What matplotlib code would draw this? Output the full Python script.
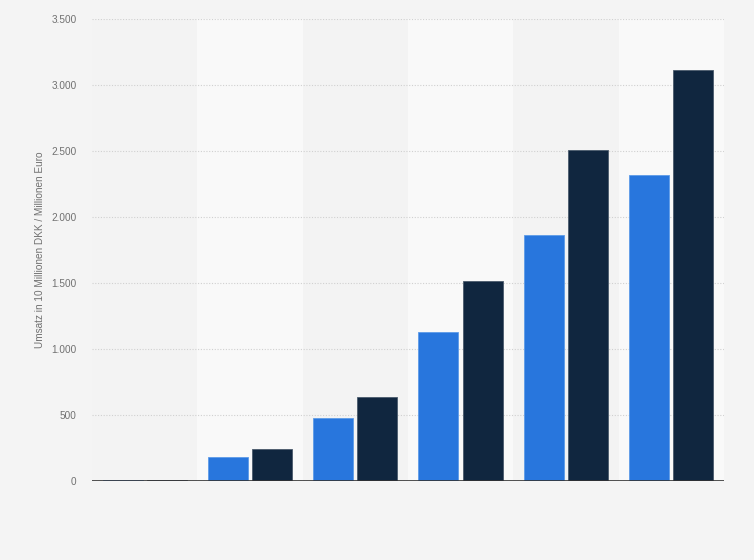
import numpy as np
import matplotlib.pyplot as plt
from matplotlib.ticker import FuncFormatter

plt.rcParams['font.family'] = ['Liberation Sans', 'DejaVu Sans']

groups = ['1', '2', '3', '4', '5', '6']
umsatz_blau = [5, 184, 480, 1126, 1861, 2316]
umsatz_dunkel = [5, 245, 639, 1513, 2508, 3111]
y_ticks = [0, 500, 1000, 1500, 2000, 2500, 3000, 3500]
y_label = 'Umsatz in 10 Millionen DKK / Millionen Euro'


def de_format(v, pos):
    return f"{int(v):,}".replace(',', '.')


fig = plt.figure(figsize=(7.54, 5.6), dpi=100, facecolor='#f4f4f4')
ax = fig.add_axes([0.122, 0.141, 0.838, 0.825])
ax.set_facecolor('#f3f3f3')

x = np.arange(len(groups))
for i in x:
    if i % 2 == 1:
        ax.axvspan(i - 0.5, i + 0.5, color='#f9f9f9', zorder=0, lw=0)

w = 0.38
ax.bar(x - 0.21, umsatz_blau, width=w, color='#2876dd', edgecolor='#5d9be8', linewidth=0.6, zorder=3)
ax.bar(x + 0.21, umsatz_dunkel, width=w, color='#10263f', edgecolor='#4a5a6c', linewidth=0.6, zorder=3)

ax.set_xlim(-0.5, len(groups) - 0.5)
ax.set_ylim(0, 3500)
ax.set_yticks(y_ticks)
ax.yaxis.set_major_formatter(FuncFormatter(de_format))
ax.set_xticks([])
ax.grid(axis='y', color='#d0d0d0', linestyle=(0, (1, 1.5)), linewidth=0.8, zorder=1)
ax.axhline(0, color='#333333', linewidth=1.2, zorder=4)

for s in ['top', 'right', 'left', 'bottom']:
    ax.spines[s].set_visible(False)
ax.tick_params(axis='y', length=0, pad=11, labelsize=7.2, labelcolor='#707070')
ax.set_ylabel(y_label, fontsize=7.2, color='#707070', labelpad=5)

fig.savefig('out.png', dpi=100, facecolor=fig.get_facecolor())
